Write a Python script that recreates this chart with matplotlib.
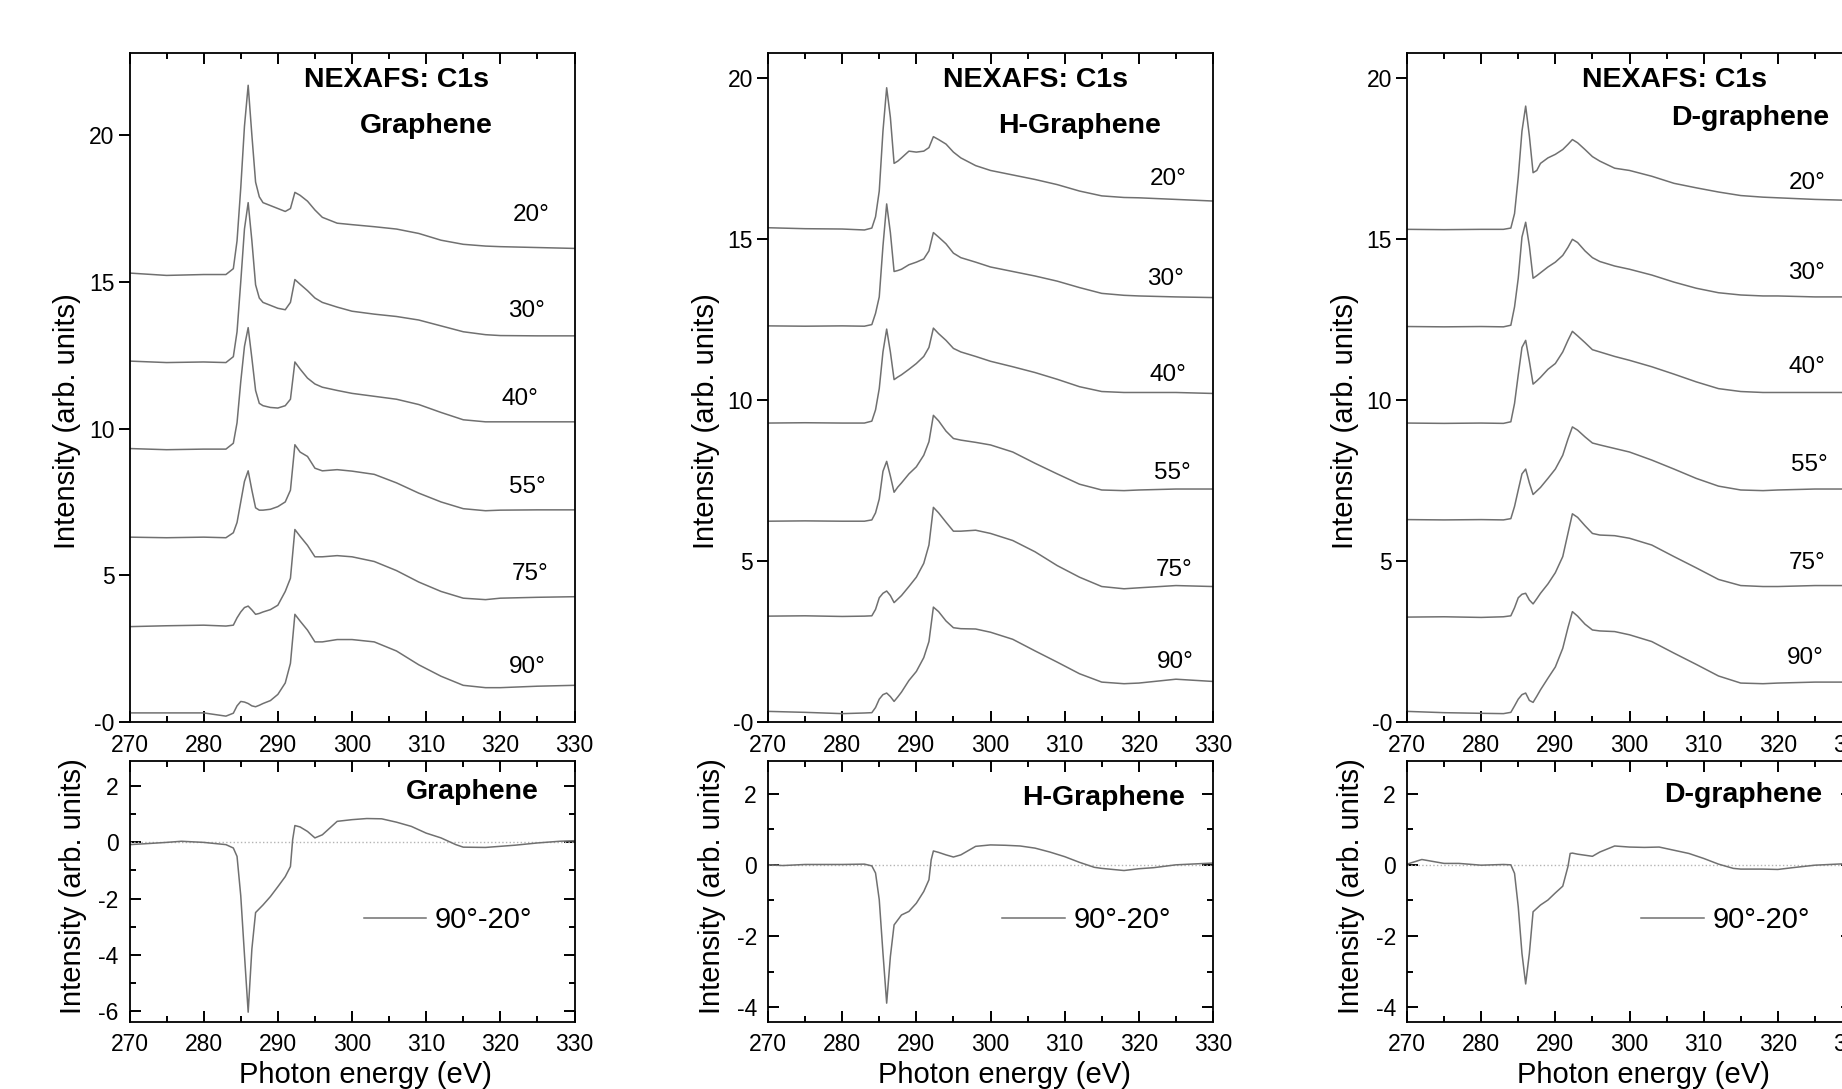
import matplotlib
matplotlib.use('Agg')
import matplotlib.pyplot as plt
from matplotlib.ticker import MultipleLocator

plt.rcParams['font.family'] = ['Liberation Sans', 'DejaVu Sans']
plt.rcParams['axes.unicode_minus'] = False

# photon energy grid (eV) for the angle-resolved spectra
energy = [270, 275, 280, 283, 284, 284.5, 285, 285.5, 286, 286.5, 287, 287.5, 288, 289, 290, 291,
          291.7, 292.3, 293, 294, 295, 296, 298, 300, 303, 306, 309, 312, 315, 318, 320, 325, 330]
# photon energy grid (eV) for the 90-20 difference spectra
energy_diff = [270, 272, 275, 277, 280, 283, 284, 284.5, 285, 285.5, 286, 286.5, 287, 288, 289, 290,
               291, 291.7, 292, 292.3, 293, 294, 295, 296, 298, 300, 302, 304, 306, 308, 310, 312,
               314, 315, 318, 320, 322, 325, 328, 330]
angles = ['20°', '30°', '40°', '55°', '75°', '90°']

# Graphene (offset spectra)
gr_20 = [15.30, 15.22, 15.25, 15.25, 15.45, 16.4, 18.2, 20.3, 21.7, 20.0, 18.4, 17.9, 17.7, 17.6, 17.5, 17.4,
         17.5, 18.05, 17.95, 17.75, 17.45, 17.2, 17.0, 16.95, 16.88, 16.8, 16.65, 16.42, 16.28, 16.22, 16.2, 16.17, 16.14]
gr_30 = [12.30, 12.25, 12.27, 12.25, 12.45, 13.3, 15.0, 16.8, 17.7, 16.4, 14.9, 14.45, 14.3, 14.2, 14.1, 14.05,
         14.3, 15.08, 14.92, 14.7, 14.45, 14.3, 14.14, 14.0, 13.9, 13.82, 13.7, 13.5, 13.3, 13.2, 13.17, 13.16, 13.16]
gr_40 = [9.32, 9.28, 9.30, 9.30, 9.5, 10.2, 11.6, 12.8, 13.44, 12.4, 11.3, 10.86, 10.78, 10.72, 10.7, 10.78,
         11.0, 12.27, 12.03, 11.72, 11.52, 11.41, 11.3, 11.2, 11.1, 11.0, 10.82, 10.55, 10.3, 10.23, 10.23, 10.23, 10.23]
gr_55 = [6.30, 6.28, 6.30, 6.28, 6.45, 6.8, 7.5, 8.2, 8.56, 7.9, 7.3, 7.22, 7.22, 7.25, 7.34, 7.5,
         7.9, 9.45, 9.2, 9.05, 8.65, 8.56, 8.6, 8.55, 8.44, 8.15, 7.8, 7.5, 7.27, 7.2, 7.22, 7.23, 7.23]
gr_75 = [3.25, 3.28, 3.3, 3.27, 3.3, 3.55, 3.75, 3.9, 3.95, 3.82, 3.67, 3.7, 3.75, 3.83, 3.98, 4.45,
         4.9, 6.56, 6.33, 6.02, 5.63, 5.63, 5.67, 5.63, 5.47, 5.16, 4.77, 4.45, 4.22, 4.17, 4.22, 4.25, 4.27]
gr_90 = [0.31, 0.31, 0.31, 0.2, 0.3, 0.55, 0.7, 0.68, 0.63, 0.55, 0.52, 0.57, 0.63, 0.73, 0.94, 1.33,
         2.0, 3.67, 3.44, 3.13, 2.73, 2.73, 2.81, 2.81, 2.73, 2.42, 1.95, 1.56, 1.25, 1.17, 1.17, 1.22, 1.25]
gr_diff = [-0.08, -0.05, 0.0, 0.04, 0.0, -0.08, -0.2, -0.5, -1.9, -4.0, -6.05, -3.8, -2.5, -2.23, -1.93, -1.58,
           -1.22, -0.86, 0.1, 0.6, 0.55, 0.39, 0.16, 0.27, 0.75, 0.81, 0.85, 0.84, 0.72, 0.57, 0.33, 0.16,
           -0.08, -0.17, -0.18, -0.14, -0.1, -0.02, 0.04, 0.06]

# H-Graphene
hg_20 = [15.36, 15.33, 15.32, 15.29, 15.35, 15.7, 16.5, 18.36, 19.71, 18.79, 17.36, 17.43, 17.53, 17.74, 17.71, 17.74,
         17.85, 18.19, 18.1, 17.96, 17.71, 17.53, 17.29, 17.14, 17.0, 16.86, 16.7, 16.5, 16.35, 16.3, 16.29, 16.24, 16.19]
hg_30 = [12.31, 12.3, 12.31, 12.3, 12.35, 12.7, 13.21, 14.79, 16.1, 15.21, 14.0, 14.03, 14.07, 14.21, 14.29, 14.39,
         14.64, 15.21, 15.07, 14.86, 14.57, 14.43, 14.29, 14.14, 14.0, 13.86, 13.7, 13.5, 13.32, 13.26, 13.24, 13.21, 13.19]
hg_40 = [9.29, 9.3, 9.29, 9.29, 9.35, 9.7, 10.36, 11.5, 12.21, 11.5, 10.64, 10.72, 10.79, 10.96, 11.14, 11.36,
         11.64, 12.24, 12.07, 11.86, 11.61, 11.5, 11.36, 11.21, 11.04, 10.86, 10.65, 10.42, 10.27, 10.24, 10.24, 10.24, 10.21]
hg_55 = [6.24, 6.25, 6.24, 6.24, 6.28, 6.5, 6.93, 7.79, 8.1, 7.64, 7.14, 7.3, 7.43, 7.71, 7.93, 8.29,
         8.71, 9.53, 9.36, 9.04, 8.81, 8.76, 8.69, 8.61, 8.39, 8.04, 7.71, 7.39, 7.21, 7.19, 7.21, 7.24, 7.24]
hg_75 = [3.29, 3.3, 3.28, 3.29, 3.3, 3.5, 3.86, 4.0, 4.07, 3.93, 3.71, 3.82, 3.93, 4.21, 4.5, 4.93,
         5.5, 6.67, 6.5, 6.21, 5.93, 5.93, 5.96, 5.86, 5.64, 5.29, 4.86, 4.5, 4.21, 4.14, 4.17, 4.24, 4.21]
hg_90 = [0.33, 0.3, 0.26, 0.28, 0.29, 0.45, 0.71, 0.85, 0.9, 0.79, 0.64, 0.78, 0.93, 1.29, 1.57, 2.0,
         2.5, 3.57, 3.43, 3.14, 2.93, 2.9, 2.89, 2.79, 2.57, 2.21, 1.86, 1.5, 1.24, 1.19, 1.21, 1.33, 1.26]
hg_diff = [0.0, -0.02, 0.01, 0.01, 0.01, 0.02, -0.03, -0.23, -0.98, -2.48, -3.89, -2.58, -1.69, -1.41, -1.31, -1.08,
           -0.75, -0.42, 0.14, 0.39, 0.35, 0.28, 0.22, 0.28, 0.52, 0.56, 0.55, 0.53, 0.47, 0.36, 0.23, 0.07,
           -0.07, -0.1, -0.16, -0.11, -0.08, 0.0, 0.03, 0.05]

# D-graphene
dg_20 = [15.31, 15.3, 15.31, 15.31, 15.35, 15.8, 16.93, 18.36, 19.14, 18.21, 17.07, 17.14, 17.36, 17.53, 17.64, 17.79,
         17.95, 18.1, 18.0, 17.79, 17.57, 17.43, 17.21, 17.14, 16.96, 16.74, 16.6, 16.47, 16.36, 16.31, 16.29, 16.24, 16.21]
dg_30 = [12.29, 12.28, 12.29, 12.28, 12.33, 12.9, 13.79, 15.07, 15.53, 14.79, 13.79, 13.87, 13.96, 14.14, 14.29, 14.5,
         14.75, 15.0, 14.9, 14.64, 14.43, 14.31, 14.17, 14.07, 13.89, 13.67, 13.48, 13.34, 13.27, 13.24, 13.24, 13.21, 13.21]
dg_40 = [9.29, 9.28, 9.29, 9.28, 9.33, 9.9, 10.79, 11.64, 11.86, 11.21, 10.5, 10.6, 10.71, 10.96, 11.14, 11.5,
         11.86, 12.14, 12.0, 11.79, 11.57, 11.5, 11.36, 11.24, 11.04, 10.81, 10.57, 10.36, 10.27, 10.24, 10.24, 10.24, 10.24]
dg_55 = [6.29, 6.28, 6.29, 6.28, 6.32, 6.7, 7.21, 7.71, 7.86, 7.43, 7.07, 7.18, 7.29, 7.57, 7.86, 8.29,
         8.79, 9.17, 9.07, 8.86, 8.67, 8.61, 8.5, 8.39, 8.14, 7.86, 7.57, 7.33, 7.21, 7.19, 7.21, 7.24, 7.24]
dg_75 = [3.26, 3.27, 3.25, 3.27, 3.3, 3.55, 3.86, 3.97, 4.0, 3.79, 3.67, 3.83, 4.0, 4.29, 4.64, 5.14,
         5.86, 6.47, 6.36, 6.1, 5.86, 5.81, 5.79, 5.71, 5.5, 5.14, 4.79, 4.43, 4.24, 4.21, 4.21, 4.24, 4.24]
dg_90 = [0.33, 0.29, 0.27, 0.26, 0.3, 0.5, 0.71, 0.85, 0.9, 0.67, 0.61, 0.8, 1.0, 1.36, 1.71, 2.29,
         2.93, 3.43, 3.29, 3.04, 2.86, 2.83, 2.81, 2.71, 2.5, 2.14, 1.79, 1.43, 1.21, 1.19, 1.21, 1.24, 1.24]
dg_diff = [0.02, 0.15, 0.04, 0.04, -0.01, 0.01, 0.0, -0.24, -1.18, -2.49, -3.35, -2.49, -1.32, -1.13, -0.99, -0.79,
           -0.6, -0.05, 0.32, 0.33, 0.3, 0.27, 0.24, 0.36, 0.53, 0.5, 0.49, 0.5, 0.41, 0.32, 0.18, 0.02,
           -0.1, -0.12, -0.12, -0.13, -0.08, -0.01, 0.02, 0.04]

samples = ['Graphene', 'H-Graphene', 'D-graphene']
spectra = [[gr_20, gr_30, gr_40, gr_55, gr_75, gr_90],
           [hg_20, hg_30, hg_40, hg_55, hg_75, hg_90],
           [dg_20, dg_30, dg_40, dg_55, dg_75, dg_90]]
diffs = [gr_diff, hg_diff, dg_diff]

# layout / style
W, H = 1842, 1089
lefts = [129.5, 768, 1407]
top_ymax = [22.8, 20.79, 20.79]
bot_ylim = [(-6.4, 2.9), (-4.42, 2.92), (-4.42, 2.92)]
name_top = [(0.667, 0.891), (0.700, 0.891), (0.772, 0.903)]
name_bot = [(0.771, 0.882), (0.754, 0.857), (0.755, 0.870)]
lab_x = [[324.2, 323.5, 322.7, 323.7, 324.0, 323.7],
         [323.9, 323.6, 323.9, 324.5, 324.7, 324.9],
         [324.0, 323.8, 323.9, 324.2, 323.9, 323.7]]
lab_y = [[17.27, 14.02, 11.02, 8.0, 5.03, 1.86],
         [16.87, 13.78, 10.79, 7.75, 4.73, 1.88],
         [16.74, 13.94, 11.03, 8.0, 4.93, 2.0]]
curve_c = '#707070'

fig = plt.figure(figsize=(W / 100, H / 100), dpi=100)

for i in range(3):
    ax1 = fig.add_axes([lefts[i] / W, 1 - 722 / H, 445 / W, 669 / H])
    ax2 = fig.add_axes([lefts[i] / W, 1 - 1022 / H, 445 / W, 261 / H])

    for ys in spectra[i]:
        ax1.plot(energy, ys, color=curve_c, lw=1.1)
    for k in range(6):
        ax1.text(lab_x[i][k], lab_y[i][k], angles[k], fontsize=17.5, ha='center', va='center')
    ax1.text(0.6, 0.96, 'NEXAFS: C1s', transform=ax1.transAxes, fontsize=20.5,
             fontweight='bold', ha='center', va='center')
    ax1.text(name_top[i][0], name_top[i][1], samples[i], transform=ax1.transAxes, fontsize=20.5,
             fontweight='bold', ha='center', va='center')

    ax1.set_xlim(270, 330)
    ax1.set_ylim(0, top_ymax[i])
    ax1.xaxis.set_major_locator(MultipleLocator(10))
    ax1.xaxis.set_minor_locator(MultipleLocator(5))
    ax1.set_yticks([0, 5, 10, 15, 20])
    ax1.set_yticklabels(['-0', '5', '10', '15', '20'])
    ax1.tick_params(axis='x', which='both', direction='in', top=True, bottom=True,
                    labelsize=16.5, pad=8.5, width=1.4)
    ax1.tick_params(axis='y', which='both', direction='out', left=True, right=False,
                    labelsize=16.5, pad=3, width=1.4)
    ax1.tick_params(which='major', length=7.7)
    ax1.tick_params(which='minor', length=4.3)
    ax1.set_ylabel('Intensity (arb. units)', fontsize=21)
    ax1.yaxis.set_label_coords(-0.108, 0.45)

    ax2.axhline(0, color='#b4b4b4', ls=':', lw=1.0)
    ax2.plot(energy_diff, diffs[i], color=curve_c, lw=1.1, label='90°-20°')
    ax2.legend(loc='center left', bbox_to_anchor=(0.526, 0.39), frameon=False, fontsize=21,
               handlelength=2.15, handletextpad=0.3, borderpad=0, borderaxespad=0)
    ax2.text(name_bot[i][0], name_bot[i][1], samples[i], transform=ax2.transAxes, fontsize=20.5,
             fontweight='bold', ha='center', va='center')
    ax2.set_xlim(270, 330)
    ax2.set_ylim(*bot_ylim[i])
    ax2.xaxis.set_major_locator(MultipleLocator(10))
    ax2.xaxis.set_minor_locator(MultipleLocator(5))
    ax2.yaxis.set_major_locator(MultipleLocator(2))
    ax2.yaxis.set_minor_locator(MultipleLocator(1))
    ax2.tick_params(which='both', direction='in', top=True, bottom=True, left=True, right=True, width=1.4)
    ax2.tick_params(axis='x', labelsize=16.5, pad=8)
    ax2.tick_params(axis='y', labelsize=16.5, pad=8)
    ax2.tick_params(which='major', length=7.7)
    ax2.tick_params(which='minor', length=4.3)
    ax2.set_ylabel('Intensity (arb. units)', fontsize=21)
    ax2.yaxis.set_label_coords(-0.095, 0.522)
    ax2.set_xlabel('Photon energy (eV)', fontsize=21)
    ax2.xaxis.set_label_coords(0.531, -0.15)

    for ax in (ax1, ax2):
        for s in ax.spines.values():
            s.set_linewidth(1.3)

fig.savefig('out.png', dpi=100)
